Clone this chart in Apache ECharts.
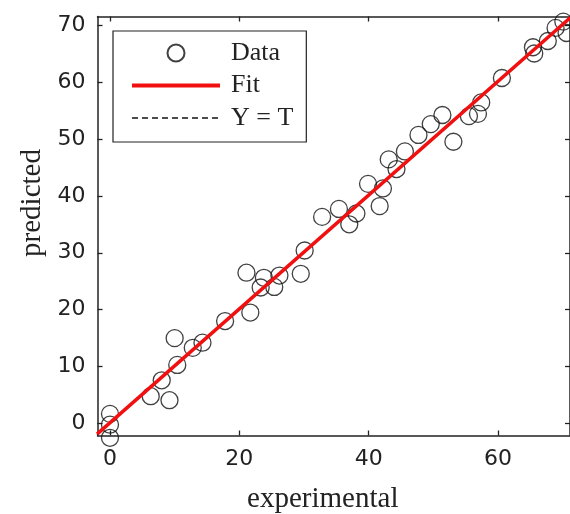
<!DOCTYPE html>
<html>
<head>
<meta charset="utf-8">
<script src="https://cdn.jsdelivr.net/npm/echarts@6/dist/echarts.min.js"></script>
<style>html,body{margin:0;padding:0;background:#fff}#c{width:570px;height:514px}</style>
</head>
<body>
<div id="c"></div>
<script>
// Data
var expX = [0, 0, 0, 6.3, 8.0, 9.2, 10.4, 10.0, 12.8, 14.3, 17.8, 21.7, 21.1, 23.8, 23.3, 25.4, 26.2, 29.5, 30.1,
  32.8, 35.4, 38.1, 37.0, 39.9, 42.2, 41.7, 43.1, 44.3, 45.6, 47.7, 49.6, 51.4, 53.1, 55.5, 56.9, 57.4, 60.6,
  65.4, 65.6, 67.7, 68.9, 70.1, 70.6];
var predY = [1.7, -0.2, -2.5, 4.8, 7.6, 4.1, 10.3, 15.0, 13.3, 14.2, 18.0, 19.5, 26.5, 25.6, 23.9, 24.0, 26.0, 26.3, 30.4,
  36.3, 37.7, 36.9, 35.0, 42.1, 41.3, 38.2, 46.4, 44.7, 47.8, 50.7, 52.6, 54.2, 49.5, 54.0, 54.4, 56.4, 60.7,
  66.1, 65.0, 67.2, 69.5, 70.6, 68.6];
var fitX = [-2, 71.2];
var fitY = [-1.85, 71.3];
var idX = [-2, 71.2];
var idY = [-2, 71.2];
var xTicks = [0, 20, 40, 60];
var yTicks = [0, 10, 20, 30, 40, 50, 60, 70];

function pairs(a, b) { return a.map(function (v, i) { return [v, b[i]]; }); }

var axisLine = { show: true, onZero: false, lineStyle: { color: '#222', width: 1.5 } };
var tickIn = function (vals) { return { show: true, inside: true, length: 5, customValues: vals, lineStyle: { color: '#222', width: 1.3 } }; };
var labelFont = { fontFamily: 'DejaVu Sans', fontSize: 22, color: '#222' };

var chart = echarts.init(document.getElementById('c'));
chart.setOption({
  animation: false,
  backgroundColor: '#fff',
  grid: { left: 97.5, right: 0, top: 16.5, bottom: 78.5, containLabel: false, outerBoundsMode: 'none' },
  xAxis: [
    { type: 'value', min: -1.93, max: 71.13, position: 'bottom',
      axisLine: axisLine, axisTick: tickIn(xTicks), splitLine: { show: false },
      axisLabel: Object.assign({ customValues: xTicks, margin: 13 }, labelFont),
      name: 'experimental', nameLocation: 'middle', nameGap: 49,
      nameTextStyle: { fontFamily: 'Liberation Serif', fontSize: 29, color: '#222', padding: [0, 22, 0, 0] } },
    { type: 'value', min: -1.93, max: 71.13, position: 'top',
      axisLine: axisLine, axisTick: tickIn(xTicks), splitLine: { show: false }, axisLabel: { show: false } }
  ],
  yAxis: [
    { type: 'value', min: -2.1, max: 71.5, position: 'left',
      axisLine: axisLine, axisTick: tickIn(yTicks), splitLine: { show: false },
      axisLabel: Object.assign({ customValues: yTicks, margin: 12 }, labelFont),
      name: 'predicted', nameLocation: 'middle', nameGap: 43,
      nameTextStyle: { fontFamily: 'Liberation Serif', fontSize: 29, color: '#222', padding: [0, 0, 0, 46] } },
    { type: 'value', min: -2.1, max: 71.5, position: 'right',
      axisLine: axisLine, axisTick: tickIn(yTicks), splitLine: { show: false }, axisLabel: { show: false } }
  ],
  legend: {
    orient: 'vertical', left: 113, top: 31,
    data: [
      { name: 'Data' },
      { name: 'Fit', itemStyle: { opacity: 0 }, lineStyle: { color: '#f01010', width: 4 } },
      { name: 'Y = T', itemStyle: { opacity: 0 }, lineStyle: { color: '#111', width: 1.3, type: [6, 4] } }
    ],
    itemWidth: 88, itemHeight: 17, itemGap: 6.5,
    padding: [9, 13, 11, 17],
    borderColor: '#222', borderWidth: 1.2, backgroundColor: '#fff',
    textStyle: { fontFamily: 'Liberation Serif', fontSize: 26, lineHeight: 20, color: '#222', padding: [0, 0, 0, 6] }
  },
  series: [
    { name: 'Data', type: 'scatter', data: pairs(expX, predY), symbol: 'circle', symbolSize: 17, clip: false,
      itemStyle: { color: 'transparent', borderColor: '#111', borderWidth: 1.3 } },
    { name: 'Y = T', type: 'line', data: pairs(idX, idY), showSymbol: false, symbol: 'none', symbolSize: 0,
      itemStyle: { color: 'transparent' },
      lineStyle: { color: '#111', width: 1.2, type: [6, 4] } },
    { name: 'Fit', type: 'line', data: pairs(fitX, fitY), showSymbol: false, symbol: 'none', symbolSize: 0,
      itemStyle: { color: 'transparent' },
      lineStyle: { color: '#f01010', width: 3.5 } }
  ]
});
</script>
</body>
</html>
